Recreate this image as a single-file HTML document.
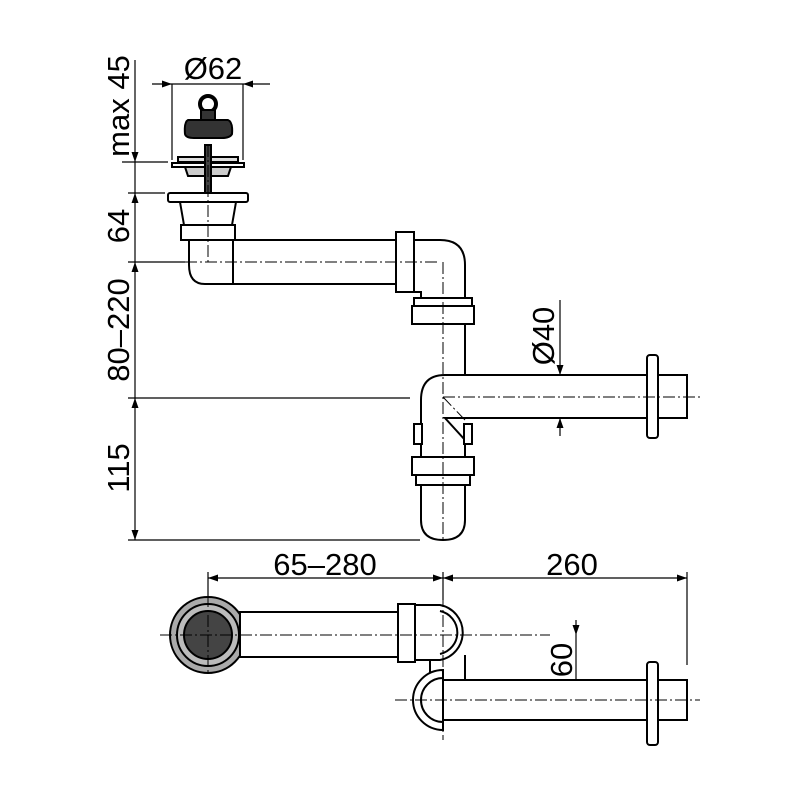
<!DOCTYPE html>
<html><head><meta charset="utf-8"><style>html,body{margin:0;padding:0;background:#fff}svg{display:block}</style></head>
<body>
<svg width="800" height="800" viewBox="0 0 800 800" xmlns="http://www.w3.org/2000/svg" font-family="Liberation Sans, DejaVu Sans, sans-serif">
<defs>
<marker id="a" viewBox="0 0 10 10" refX="10" refY="5" markerWidth="10" markerHeight="10" orient="auto-start-reverse" markerUnits="userSpaceOnUse"><path d="M0,1.5 L10,5 L0,8.5z" fill="#000"/></marker>
</defs>
<g stroke="#000" stroke-width="1.2" fill="none">
<line x1="135" y1="60" x2="135" y2="162" marker-end="url(#a)"/>
<line x1="135" y1="193" x2="135" y2="262" marker-start="url(#a)"/>
<line x1="135" y1="262" x2="135" y2="398" marker-start="url(#a)"/>
<line x1="135" y1="398" x2="135" y2="540" marker-start="url(#a)" marker-end="url(#a)"/>
<line x1="135" y1="162" x2="135" y2="193"/>
<line x1="122" y1="162" x2="168" y2="162"/>
<line x1="128" y1="193" x2="165" y2="193"/>
<line x1="128" y1="262" x2="185" y2="262"/>
<line x1="128" y1="398" x2="410" y2="398"/>
<line x1="128" y1="540" x2="420" y2="540"/>
<line x1="152" y1="84" x2="172" y2="84" marker-end="url(#a)"/>
<line x1="270" y1="84" x2="243" y2="84" marker-end="url(#a)"/>
<line x1="172" y1="84" x2="243" y2="84"/>
<line x1="172" y1="84" x2="172" y2="160"/>
<line x1="243" y1="84" x2="243" y2="160"/>
<line x1="560" y1="300" x2="560" y2="375" marker-end="url(#a)"/>
<line x1="560" y1="436" x2="560" y2="418" marker-end="url(#a)"/>
<line x1="208" y1="578" x2="443" y2="578" marker-start="url(#a)" marker-end="url(#a)"/>
<line x1="443" y1="578" x2="687" y2="578" marker-start="url(#a)" marker-end="url(#a)"/>
<line x1="208" y1="572" x2="208" y2="600"/>
<line x1="443" y1="572" x2="443" y2="600"/>
<line x1="687" y1="572" x2="687" y2="665"/>
<line x1="576" y1="620" x2="576" y2="635" marker-end="url(#a)"/>
<line x1="576" y1="715" x2="576" y2="700" marker-end="url(#a)"/>
<line x1="576" y1="635" x2="576" y2="700"/>
</g>
<g font-size="31" fill="#000">
<text x="213" y="79" text-anchor="middle">Ø62</text>
<text transform="translate(129,106) rotate(-90)" text-anchor="middle">max 45</text>
<text transform="translate(129,226) rotate(-90)" text-anchor="middle">64</text>
<text transform="translate(129,330) rotate(-90)" text-anchor="middle">80–220</text>
<text transform="translate(129,468) rotate(-90)" text-anchor="middle">115</text>
<text transform="translate(554,336) rotate(-90)" text-anchor="middle">Ø40</text>
<text x="325" y="575" text-anchor="middle">65–280</text>
<text x="572" y="575" text-anchor="middle">260</text>
<text transform="translate(572,660) rotate(-90)" text-anchor="middle">60</text>
</g>
<g stroke="#000" stroke-width="2" fill="#fff">
<circle cx="208" cy="104" r="8" fill="none" stroke-width="4"/>
<rect x="201" y="110" width="14" height="12" fill="#333"/>
<path d="M188,120 L228,120 Q233,122 232,134 Q230,138 222,138 L194,138 Q186,138 185,134 Q184,122 188,120 Z" fill="#333"/>
<rect x="178" y="157" width="60" height="5" fill="#ddd"/>
<rect x="172" y="163" width="72" height="4"/>
<path d="M185,167 L231,167 L228,176 L188,176 Z" fill="#ccc"/>
<rect x="205" y="145" width="6" height="48" fill="#444"/>
<rect x="168" y="193" width="80" height="9" rx="2"/>
<path d="M180,202 L236,202 L232,225 L184,225 Z"/>
<rect x="181" y="225" width="54" height="15"/>
<path d="M189,240 L400,240 L400,284 L205,284 Q189,284 189,265 Z"/>
<line x1="233" y1="240" x2="233" y2="284"/>
<rect x="396" y="232" width="18" height="60"/>
<path d="M414,240 L440,240 Q465,240 465,265 L465,298 L421,298 L421,292 L414,292 Z"/>
<rect x="414" y="298" width="58" height="8"/>
<rect x="412" y="306" width="62" height="18"/>
<path d="M421,324 L465,324 L465,375 L687,375 L687,418 L445,418 L465,440 L465,457 L421,457 L421,400 Q421,375 445,375"/>
<line x1="445" y1="375" x2="465" y2="375"/>
<rect x="647" y="355" width="11" height="83" rx="3"/>
<line x1="658" y1="375" x2="658" y2="418"/>
<rect x="414" y="424" width="8" height="20"/>
<rect x="464" y="424" width="8" height="20"/>
<rect x="412" y="457" width="62" height="18"/>
<rect x="416" y="475" width="54" height="10"/>
<path d="M421,485 L465,485 L465,520 Q465,540 443,540 Q421,540 421,520 Z"/>
<circle cx="208" cy="635" r="38" fill="#aaa"/>
<circle cx="208" cy="635" r="31" fill="#bbb"/>
<circle cx="208" cy="635" r="24" fill="#444"/>
<rect x="240" y="612" width="160" height="45"/>
<path d="M430,655 L430,680 M465,655 L465,680" fill="none"/>
<path d="M415,605 L440,605 A28,28 0 0 1 440,660 L415,660 Z"/>
<path d="M440,611 A22,22 0 0 1 440,654" fill="none"/>
<rect x="398" y="604" width="17" height="58"/>
<rect x="443" y="680" width="244" height="40"/>
<path d="M443,670 A30,30 0 0 0 443,730 L443,722 A22,22 0 0 1 443,678 Z"/>
<rect x="647" y="662" width="11" height="83" rx="3"/>
</g>
<g stroke="#000" stroke-width="1" stroke-dasharray="12,3,2,3" fill="none">
<line x1="208" y1="145" x2="208" y2="262"/>
<line x1="185" y1="262" x2="440" y2="262"/>
<line x1="443" y1="262" x2="443" y2="540"/>
<line x1="443" y1="397" x2="700" y2="397"/>
<line x1="443" y1="397" x2="465" y2="420"/>
<line x1="160" y1="635" x2="550" y2="635"/>
<line x1="208" y1="595" x2="208" y2="675"/>
<line x1="443" y1="595" x2="443" y2="740"/>
<line x1="395" y1="700" x2="700" y2="700"/>
</g>
</svg>
</body></html>
